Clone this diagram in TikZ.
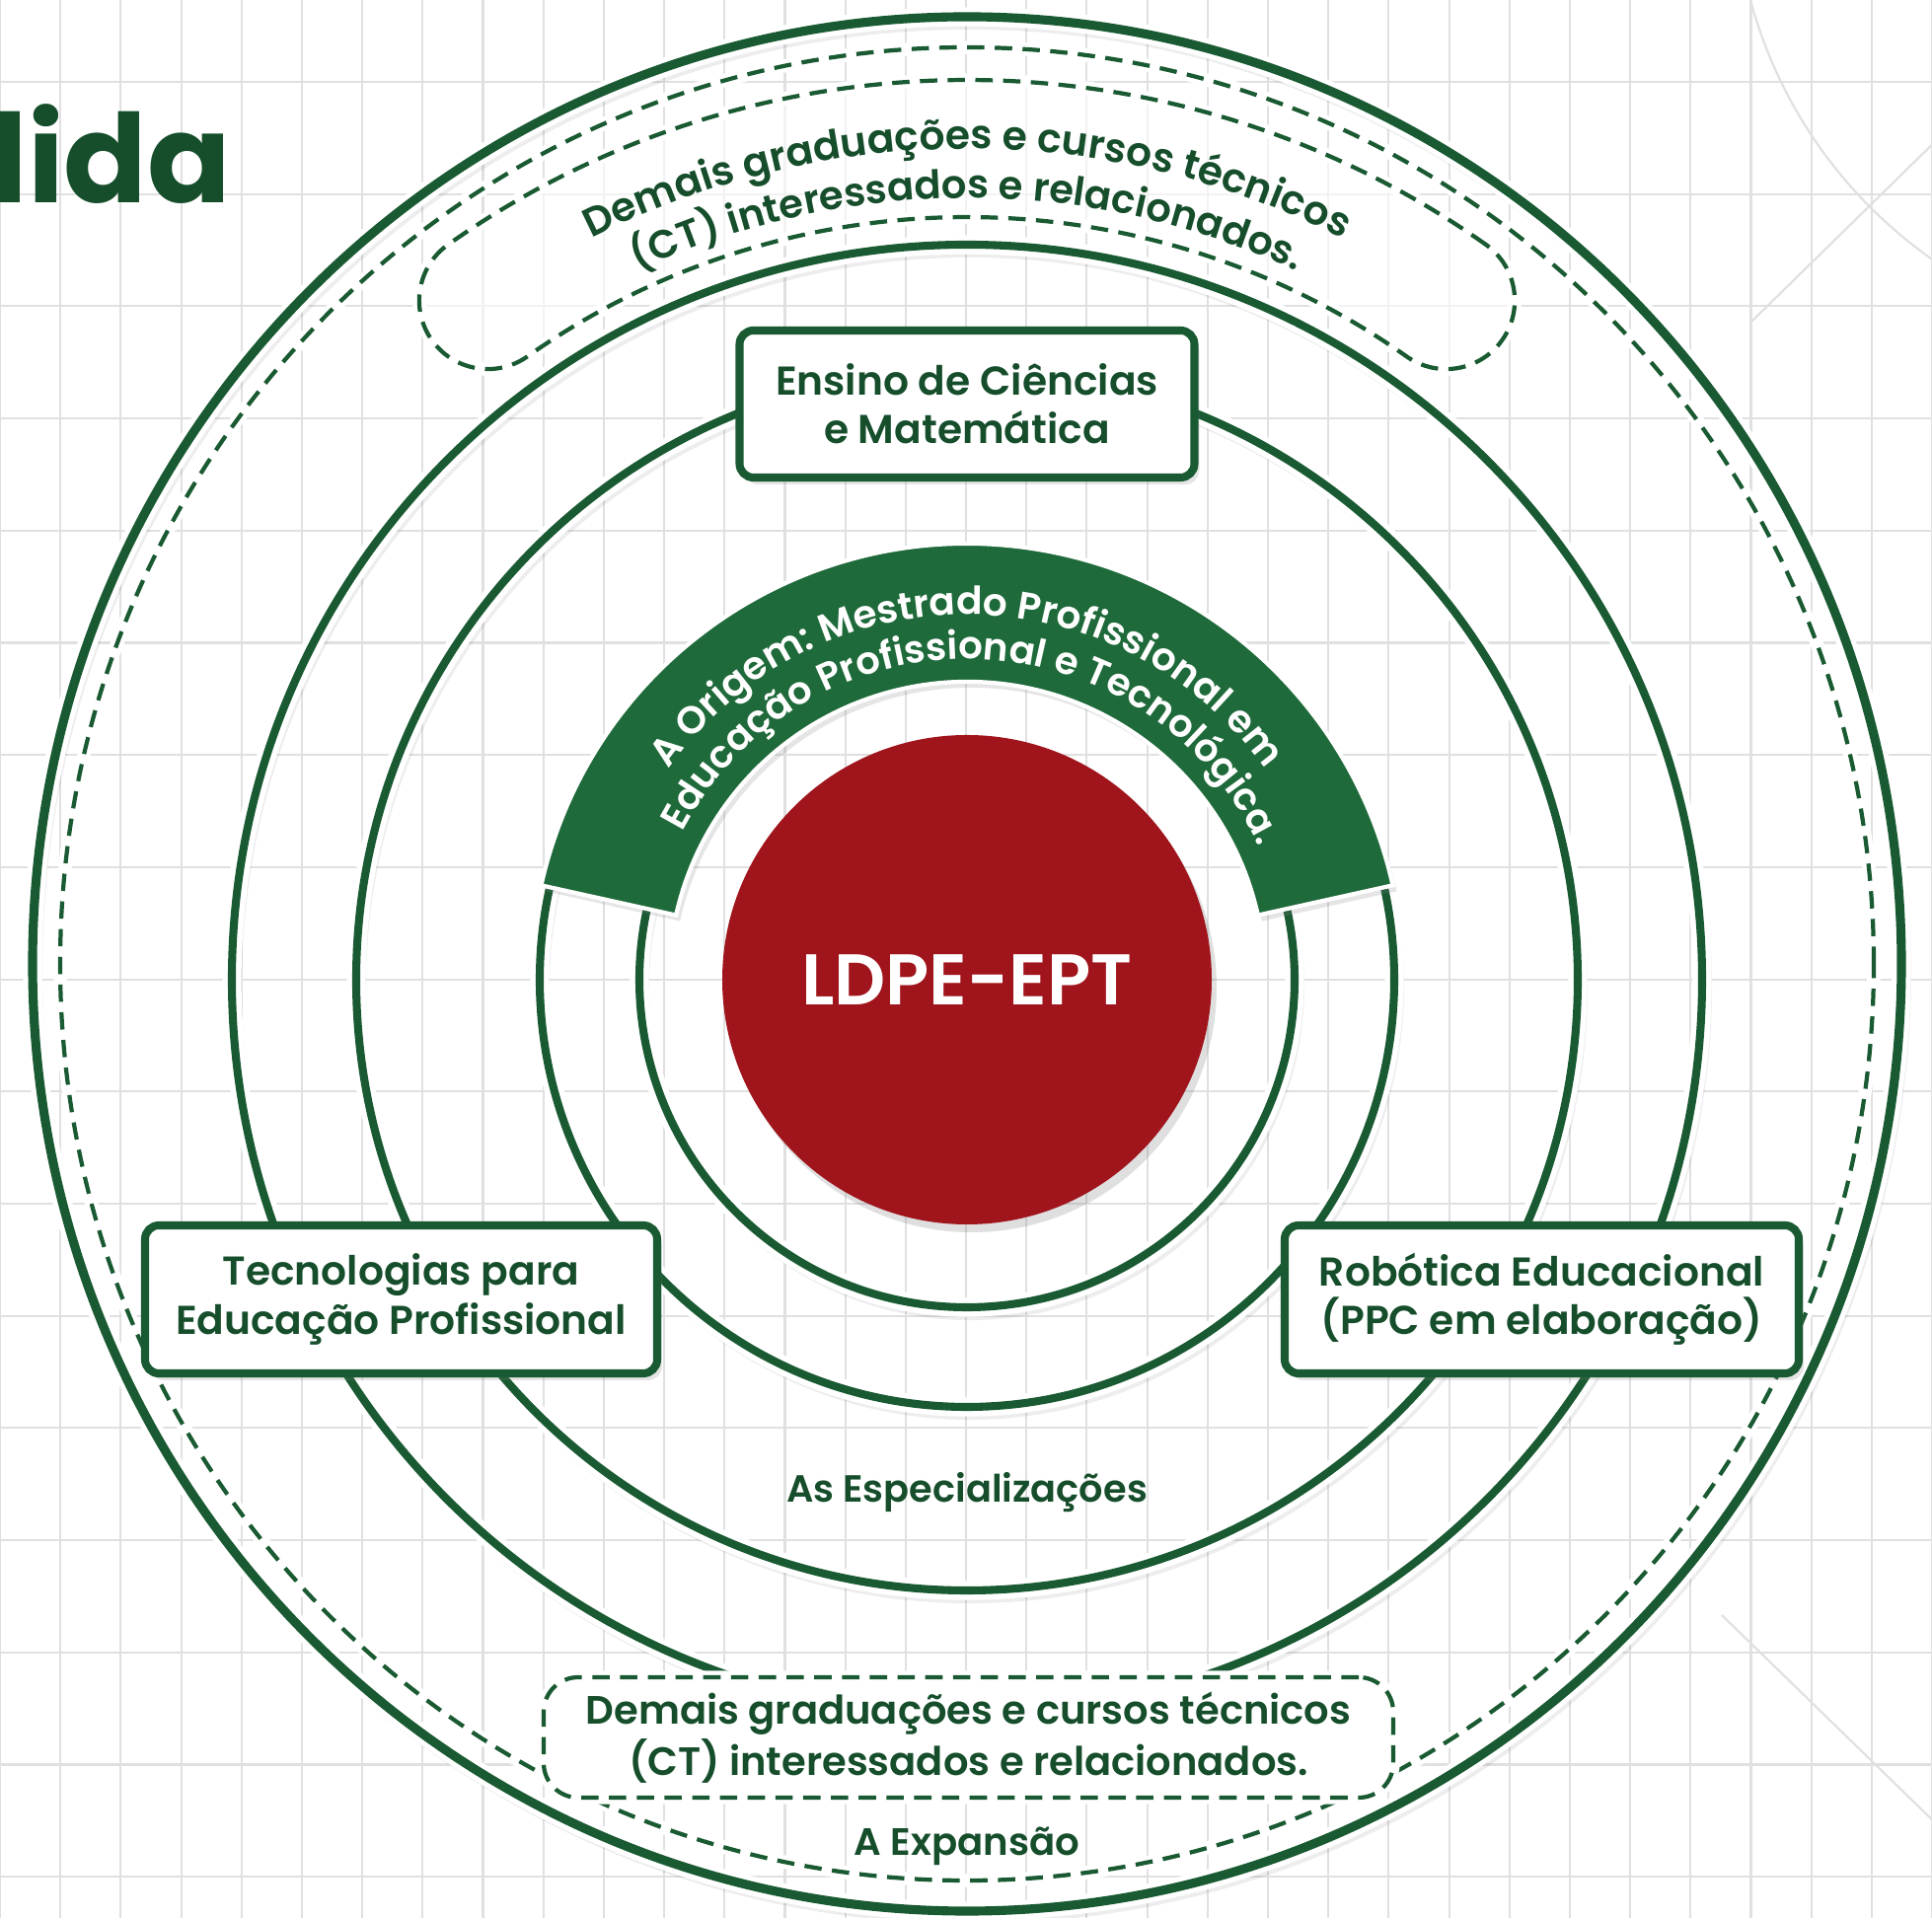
\documentclass[tikz,border=0pt]{standalone}
\usepackage{fontspec}
\setmainfont{Poppins}[BoldFont={Poppins SemiBold}]
\newfontfamily\titulofont{Poppins}
\usetikzlibrary{decorations.text,shadows}
\definecolor{verde}{RGB}{25,90,50}
\definecolor{verdetxt}{RGB}{22,78,44}
\definecolor{faixa}{RGB}{31,106,58}
\definecolor{vermelho}{RGB}{160,20,28}
\definecolor{cinzagrade}{RGB}{224,224,224}
\newcommand{\fonte}[1]{\fontsize{#1}{14}\selectfont\bfseries}

\begin{document}
\begin{tikzpicture}[
  linha/.style={verde, line width=2.3pt, preaction={draw=white, line width=5.5pt}},
  sombra/.style={black, opacity=0.07, line width=4pt},
  tracejado/.style={verde, line width=1.2pt, dash pattern=on 5pt off 3pt,
    preaction={draw=white, line width=3.8pt, solid}},
  caixa/.style={draw=verde, line width=2.3pt, fill=white, rounded corners=4pt,
    align=center, text=verdetxt, font=\fonte{11.6}, inner sep=0pt,
    drop shadow={opacity=0.2, shadow xshift=0.05cm, shadow yshift=-0.07cm}},
  rotulo/.style={text=verdetxt, font=\fonte{11}},
  gradeado/.style={cinzagrade, line width=0.6pt}]
  \useasboundingbox (-9.80,-9.51) rectangle (9.78,9.93);
  \clip (-9.80,-9.51) rectangle (9.78,9.93);
  \fill[white] (-9.80,-9.51) rectangle (9.78,9.93);
  \foreach \k in {0,...,32}
    \draw[gradeado] ({-9.80+0.6119*\k},-9.51) -- ++(0,19.44);
  \foreach \k in {0,...,16}
    \draw[gradeado] (-9.80,{9.10-1.137*\k}) -- ++(19.58,0);
  \draw[gradeado] (12.48,11.15) circle[radius=4.70];
  \draw[gradeado] (7.95,6.67) -- ++(2.0,1.96);
  \draw[gradeado] (7.65,-6.44) -- ++(2.25,-2.19);

  \node[anchor=base east, font=\titulofont\fontsize{35.5}{40}\selectfont\bfseries,
    text=verdetxt, inner sep=0pt] (titulo) at (-7.45,7.87) {dida};

  \draw[sombra] (0.03,0.10) ellipse[x radius=9.47, y radius=9.60];
  \draw[linha, line width=2.6pt] (0,0.16) ellipse[x radius=9.47, y radius=9.60];
  \draw[tracejado] (0,0.16) ellipse[x radius=9.19, y radius=9.29];
  \draw[tracejado, fill=white, fill opacity=0.6]
    (54.8:9.12) arc[start angle=54.8, end angle=125.2, radius=9.12]
    arc[start angle=125.2, end angle=305.2, radius=0.695]
    arc[start angle=125.2, end angle=54.8, radius=7.73]
    arc[start angle=234.8, end angle=414.8, radius=0.695] -- cycle;
  \path[decorate, decoration={text along path, text align=center,
    text={|\fonte{11.6}\color{verdetxt}|Demais graduações e cursos técnicos}}]
    (150:8.42) arc[start angle=150, end angle=30, radius=8.42];
  \path[decorate, decoration={text along path, text align=center,
    text={|\fonte{11.4}\color{verdetxt}|(CT) interessados e relacionados.}}]
    (150:7.92) arc[start angle=150, end angle=30, radius=7.92];

  \foreach \r in {7.45,6.19,4.33,3.32}{
    \draw[sombra] (0.03,-0.06) circle[radius=\r];
    \draw[linha] (0,0) circle[radius=\r];
  }

  \fill[faixa, draw=white, line width=1.2pt,
    drop shadow={opacity=0.2, shadow xshift=0.04cm, shadow yshift=-0.06cm}]
    (167.5:4.42) arc[start angle=167.5, end angle=12.5, radius=4.42]
    -- (12.5:3.02) arc[start angle=12.5, end angle=167.5, radius=3.02] -- cycle;
  \path[decorate, decoration={text along path, text align=center,
    text={|\fonte{11.1}\color{white}|A Origem: Mestrado Profissional em}}]
    (175:3.70) arc[start angle=175, end angle=5, radius=3.70];
  \path[decorate, decoration={text along path, text align=center,
    text={|\fonte{11}\color{white}|Educação Profissional e Tecnológica.}}]
    (173.5:3.25) arc[start angle=173.5, end angle=3.5, radius=3.25];

  \node[circle, fill=vermelho, minimum size=4.96cm, inner sep=0pt, text=white,
    font=\fontsize{20.7}{24}\selectfont\bfseries,
    drop shadow={opacity=0.25, shadow xshift=0.05cm, shadow yshift=-0.08cm}]
    (centro) at (0,0) {LDPE-EPT};

  \node[caixa, minimum width=4.61cm, minimum height=1.49cm] (ensino) at (0,5.835)
    {Ensino de Ciências\\e Matemática};
  \node[caixa, minimum width=5.19cm, minimum height=1.50cm] (tec) at (-5.735,-3.24)
    {Tecnologias para\\Educação Profissional};
  \node[caixa, minimum width=5.21cm, minimum height=1.50cm] (rob) at (5.825,-3.24)
    {Robótica Educacional\\(PPC em elaboração)};

  \node[tracejado, draw, fill=white, rounded corners=0.35cm, minimum width=8.61cm,
    minimum height=1.22cm, align=center, text=verdetxt,
    font=\fontsize{11.4}{13.5}\selectfont\bfseries]
    (demais) at (0.015,-7.68)
    {Demais graduações e cursos técnicos\\(CT) interessados e relacionados.};
  \node[rotulo, font=\fonte{10.9}] (esp) at (0,-5.20) {As Especializações};
  \node[rotulo] (exp) at (0,-8.78) {A Expansão};
\end{tikzpicture}
\end{document}
